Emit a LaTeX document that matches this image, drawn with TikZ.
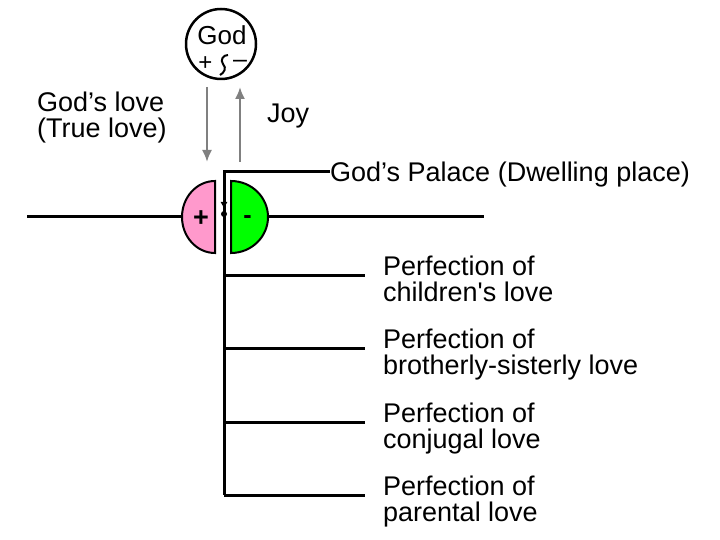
\documentclass[tikz,border=0pt]{standalone}
\usepackage{fontspec}
\setmainfont{Liberation Sans}
\newfontfamily\plainfont{Liberation Sans}
\usetikzlibrary{positioning, arrows.meta}
\definecolor{lovepink}{HTML}{FF99CC}
\definecolor{lovegreen}{HTML}{00FF00}

\begin{document}
\begin{tikzpicture}[x=1pt, y=-1pt, >={Latex[length=12pt,width=10pt]},
  every node/.style={inner sep=0pt, font=\fontsize{27}{26}\selectfont},
  txt/.style={anchor=base west, align=left},
  sign/.style={anchor=base, text height=6pt, text depth=0pt},
  bar/.style={line width=3pt},
  flow/.style={->, gray, line width=2pt},
  half/.style={draw, line width=2pt}]
  \useasboundingbox (0,0) rectangle (720,540);

  % God, top
  \node[circle, draw, line width=2.5pt, minimum size=70pt] (god) at (221,44) {};
  \node[anchor=base, font=\fontsize{26}{26}\selectfont] (godname) at (222,45) {God};
  \node[sign, font=\fontsize{24}{24}\selectfont, text height=12pt] (gplus) at (205.5,71) {+};
  \node[sign, font=\fontsize{25}{25}\selectfont] (gminus) at (240,68) {–};
  \draw[line width=2pt] (228,55) .. controls (223,55) and (220,60) .. (223,64)
    .. controls (227,68) and (224,73) .. (220,75);

  % base of last line is the anchor
  \node[txt] (love) at (37,138) {God’s love\\(True love)};
  \node[txt] (joy) at (267,123) {Joy};

  \coordinate (in1) at (207,87);
  \coordinate (in2) at (207,162);
  \coordinate (out1) at (240,162);
  \coordinate (out2) at (240,87);
  \draw[flow] (in1) -- (in2);
  \draw[flow] (out1) -- (out2);

  % the two halves
  \filldraw[half, fill=lovepink] (215,181) arc[start angle=-90, end angle=-270, x radius=33, y radius=36] -- cycle;
  \filldraw[half, fill=lovegreen] (231,181) arc[start angle=-90, end angle=90, x radius=37, y radius=36] -- cycle;
  \node[sign, font=\bfseries\fontsize{27}{27}\selectfont, text height=12pt] (pos) at (201,226) {+};
  \node[sign, font=\bfseries\fontsize{25}{25}\selectfont] (neg) at (247.5,223) {-};

  \coordinate (w) at (27,217);
  \coordinate (pinkL) at (182,217);
  \coordinate (greenR) at (268,217);
  \coordinate (e) at (484,217);
  \draw[bar] (w) -- (pinkL);
  \draw[bar] (greenR) -- (e);

  % palace and stem
  \node[txt] (palace) at (330,181.5) {God’s Palace (Dwelling place)};
  \coordinate (top) at (224,172);
  \coordinate (foot) at (224,495);
  \draw[bar] (palace.west |- top) -- (top) -- (foot);
  \draw[-{Latex[length=7pt,width=7pt]}, line width=1pt] (224,197) -- (224,209);
  \node[circle, fill, minimum size=6pt] (seed) at (224,214) {};

  % perfections
  \coordinate (s1) at (224,275);
  \coordinate (s2) at (224,348.5);
  \coordinate (s3) at (224,422);
  \coordinate (s4) at (224,495);
  \draw[bar] (s1) -- ++(141,0);
  \draw[bar] (s2) -- ++(141,0);
  \draw[bar] (s3) -- ++(141,0);
  \draw[bar] (s4) -- ++(141,0);
  \node[txt] (c) at (383,301) {Perfection of\\children{\plainfont'}s love};
  \node[txt] (b) at (383,374.5) {Perfection of\\brotherly-sisterly love};
  \node[txt] (m) at (383,448) {Perfection of\\conjugal love};
  \node[txt] (p) at (383,521) {Perfection of\\parental love};
\end{tikzpicture}
\end{document}
